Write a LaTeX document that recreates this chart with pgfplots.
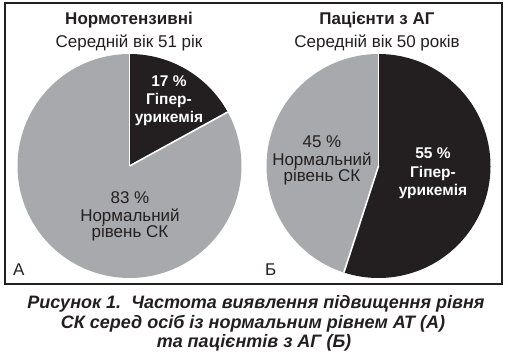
\documentclass[border=0pt]{standalone}
\usepackage{fontspec}
\setmainfont{Liberation Sans}
\usepackage{pgfplots}
\pgfplotsset{compat=1.18}
\definecolor{pieblack}{HTML}{231F20}
\definecolor{piegray}{HTML}{A7A9AC}
\definecolor{ink}{HTML}{231F20}
% data: percent of hyperuricemia
\def\hypA{17}\def\normA{83}
\def\hypB{55}\def\normB{45}
\pgfmathsetmacro{\endA}{90-\hypA*3.6}
\pgfmathsetmacro{\endB}{90-\hypB*3.6}
\pgfplotsset{pie/.style={at={#1}, anchor=center, width=224pt, height=224pt,
  scale only axis, xmin=-1, xmax=1, ymin=-1, ymax=1, hide axis, clip=false}}
\begin{document}
\begin{tikzpicture}[x=1pt,y=1pt]
\path[use as bounding box] (0,0) rectangle (508,-358);
\draw[ink, line width=1.4pt] (5,-3) rectangle (502,-284);
% Pie A
\begin{axis}[pie={(129.5pt,-166pt)}]
\addplot[fill=pieblack, draw=none, domain=\endA:90, samples=80] ({cos(x)},{sin(x)}) -- (axis cs:0,0) -- cycle;
\addplot[fill=piegray, draw=none, domain=-270:\endA, samples=200] ({cos(x)},{sin(x)}) -- (axis cs:0,0) -- cycle;
\addplot[white, line width=1.6pt] coordinates {(0,1) (0,0)};
\addplot[white, line width=1.6pt] coordinates {(0,0) ({cos(\endA)},{sin(\endA)})};
\end{axis}
% Pie B
\begin{axis}[pie={(378.5pt,-166pt)}]
\addplot[fill=pieblack, draw=none, domain=\endB:90, samples=150] ({cos(x)},{sin(x)}) -- (axis cs:0,0) -- cycle;
\addplot[fill=piegray, draw=none, domain=-270:\endB, samples=120] ({cos(x)},{sin(x)}) -- (axis cs:0,0) -- cycle;
\addplot[white, line width=1.6pt] coordinates {(0,1) (0,0)};
\addplot[white, line width=1.6pt] coordinates {(0,0) ({cos(\endB)},{sin(\endB)})};
\end{axis}
\begin{scope}[every node/.style={anchor=base, inner sep=0pt, text=ink, font=\fontsize{17}{18}\selectfont}]
\node[font=\fontsize{17}{18}\selectfont\bfseries] at (129,-25) {Нормотензивні};
\node at (129,-48) {Середній вік 51 рік};
\node[font=\fontsize{17}{18}\selectfont\bfseries] at (377,-25) {Пацієнти з АГ};
\node at (377,-48) {Середній вік 50 років};
\begin{scope}[every node/.append style={text=white, font=\fontsize{15.5}{18}\selectfont\bfseries}]
\node at (169,-86.5) {17 \%};
\node at (169,-104.5) {Гіпер-};
\node at (169,-122.5) {урикемія};
\node at (433,-159) {55 \%};
\node at (433,-177) {Гіпер-};
\node at (433,-195) {урикемія};
\end{scope}
\node at (130,-204) {83 \%};
\node at (130,-221) {Нормальний};
\node at (130,-237.5) {рівень СК};
\node at (322,-148) {45 \%};
\node at (322,-165.5) {Нормальний};
\node at (322,-182) {рівень СК};
\node[anchor=base west] at (13,-275) {А};
\node[anchor=base west] at (265,-275) {Б};
\begin{scope}[every node/.append style={font=\fontsize{18}{20}\selectfont\bfseries\itshape}]
\node at (256,-308) {Рисунок 1.\ \ Частота виявлення підвищення рівня};
\node at (253,-328) {СК серед осіб із нормальним рівнем АТ (А)};
\node at (254,-347) {та пацієнтів з АГ (Б)};
\end{scope}
\end{scope}
\end{tikzpicture}
\end{document}
